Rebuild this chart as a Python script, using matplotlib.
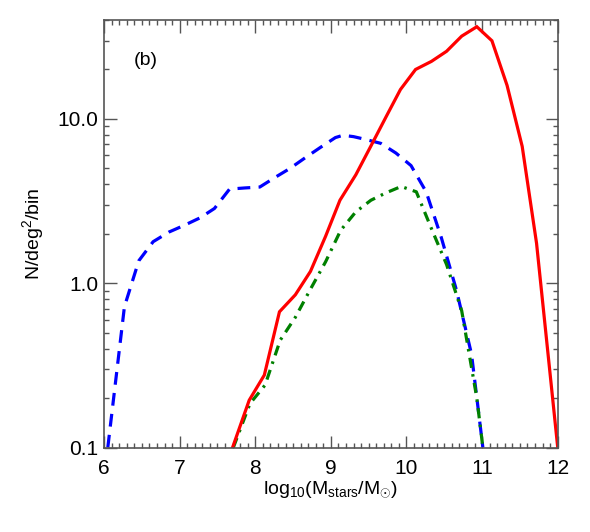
import numpy as np
import matplotlib
matplotlib.use('Agg')
import matplotlib.pyplot as plt
from matplotlib.ticker import FixedLocator, FormatStrFormatter, LogLocator, MultipleLocator, NullFormatter

plt.rcParams['font.family'] = ['Liberation Sans', 'DejaVu Sans']
plt.rcParams['mathtext.fontset'] = 'custom'
plt.rcParams['mathtext.rm'] = 'Liberation Sans'
plt.rcParams['mathtext.it'] = 'Liberation Sans:italic'
plt.rcParams['mathtext.bf'] = 'Liberation Sans:bold'

# red solid
red_x = [7.70, 7.92, 8.12, 8.32, 8.53, 8.73, 8.93, 9.12, 9.33, 9.53, 9.73, 9.92,
         10.12, 10.33, 10.53, 10.73, 10.93, 11.13, 11.33, 11.53, 11.72, 12.0]
red_y = [0.1, 0.194, 0.276, 0.67, 0.85, 1.18, 1.93, 3.2, 4.57, 6.85, 10.3, 15.1,
         20.0, 22.4, 25.8, 31.9, 36.4, 29.9, 16.0, 6.81, 1.75, 0.1]

# blue dashed
blue_x = [6.05, 6.27, 6.46, 6.65, 6.86, 7.06, 7.27, 7.46, 7.66, 7.86, 8.06, 8.26,
          8.46, 8.66, 8.86, 9.06, 9.16, 9.30, 9.46, 9.66, 9.86, 10.06, 10.26,
          10.46, 10.66, 10.86, 11.01]
blue_y = [0.1, 0.72, 1.37, 1.79, 2.05, 2.25, 2.5, 2.85, 3.74, 3.80, 3.85, 4.4,
          5.0, 5.8, 6.7, 7.7, 7.95, 7.8, 7.5, 7.1, 6.2, 5.2, 3.6,
          1.9, 0.91, 0.37, 0.1]

# green dash-dot
green_x = [7.71, 7.93, 8.13, 8.33, 8.53, 8.73, 8.93, 9.13, 9.33, 9.53, 9.73, 9.93,
           10.13, 10.33, 10.53, 10.73, 10.93, 11.01]
green_y = [0.1, 0.185, 0.24, 0.45, 0.62, 0.92, 1.35, 2.1, 2.72, 3.2, 3.55, 3.88,
           3.6, 2.15, 1.3, 0.68, 0.2, 0.1]

xticks = [6, 7, 8, 9, 10, 11, 12]
yticks = [0.1, 1.0, 10.0]

fig = plt.figure(figsize=(5.9, 5.32), dpi=100)
ax = fig.add_axes([0.1763, 0.1588, 0.769, 0.8036])

lw = 2.3
ax.plot(blue_x, blue_y, color='#0000ff', lw=lw, dashes=(4, 2.6), solid_capstyle='butt')
ax.plot(green_x, green_y, color='#008000', lw=lw, dashes=(3.2, 2.0, 0.8, 2.0))
ax.plot(red_x, red_y, color='#ff0000', lw=lw, solid_joinstyle='miter')

ax.set_yscale('log')
ax.set_xlim(6, 12)
ax.set_ylim(0.1, 40)

ax.xaxis.set_major_locator(FixedLocator(xticks))
ax.xaxis.set_minor_locator(MultipleLocator(0.1))
ax.yaxis.set_major_locator(FixedLocator(yticks))
ax.yaxis.set_major_formatter(FormatStrFormatter('%.1f'))
ax.yaxis.set_minor_locator(LogLocator(base=10, subs=np.arange(2, 10)))
ax.yaxis.set_minor_formatter(NullFormatter())

tc = '#555555'
for s in ax.spines.values():
    s.set_color(tc)
    s.set_linewidth(1.2)
ax.tick_params(which='both', direction='in', top=True, right=True, color=tc, width=1.0)
ax.tick_params(which='major', length=9, labelsize=15, labelcolor='black')
ax.tick_params(which='minor', length=3.8)
ax.tick_params(axis='x', which='major', pad=8)
ax.tick_params(axis='y', which='major', pad=4)

ax.set_xlabel(r'log$_{10}$(M$_{\rm stars}$/M$_{\odot}$)', fontsize=14, labelpad=1)
ax.set_ylabel(r'N/deg$^{\rm 2}$/bin', fontsize=14, labelpad=8)

ax.text(0.065, 0.905, '(b)', transform=ax.transAxes, fontsize=14, ha='left', va='center')

plt.savefig('out.png', dpi=100)
